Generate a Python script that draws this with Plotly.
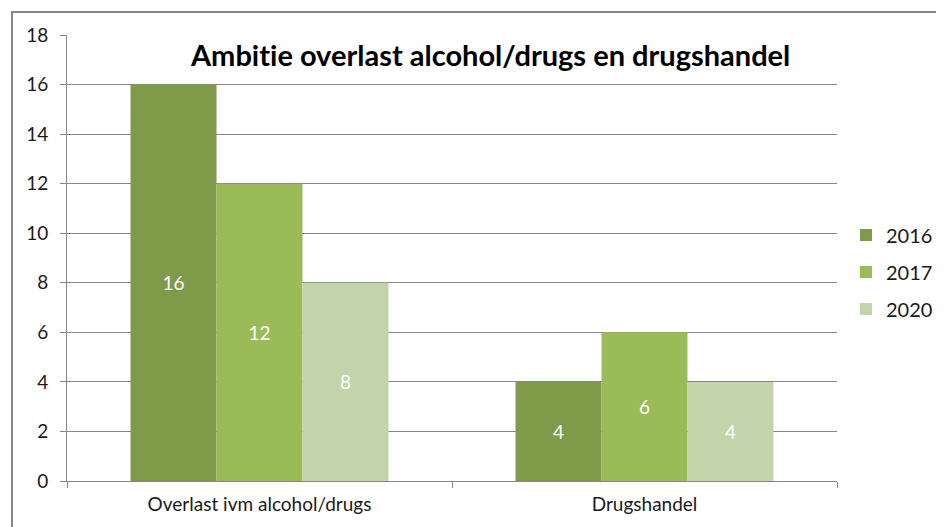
import plotly.graph_objects as go

categories = ["Overlast ivm alcohol/drugs", "Drugshandel"]
years = ["2016", "2017", "2020"]
values_2016 = [16, 4]
values_2017 = [12, 6]
values_2020 = [8, 4]
series = [values_2016, values_2017, values_2020]
colors = ["#7f9a48", "#9bbb59", "#c3d4ab"]
y_ticks = [0, 2, 4, 6, 8, 10, 12, 14, 16, 18]
title_text = "Ambit\u200cie overlast alcohol/drugs en drugshandel"

FONT = "Lato, 'Open Sans', sans-serif"

# screen-space plot area (page body has an 8px margin)
OFF = 8
L, R, T, B = 67, 837, 35, 481
W, H = 944, 527

fig = go.Figure()
for name, vals, col in zip(years, series, colors):
    fig.add_trace(go.Bar(
        name=name, x=categories, y=vals,
        marker=dict(color=col, line=dict(width=0)),
        text=[str(v) for v in vals], textposition="inside",
        insidetextanchor="middle",
        textfont=dict(color="white", size=19, family=FONT),
        legendgroup=name,
    ))

pw, ph = R - L, B - T

fig.update_layout(
    width=W, height=H,
    margin=dict(l=L - OFF, r=W - (R - OFF), t=T - OFF, b=H - (B - OFF), pad=0,
                autoexpand=False),
    paper_bgcolor="white", plot_bgcolor="white",
    barmode="group", bargap=0.33, bargroupgap=0,
    font=dict(family=FONT, size=19, color="#1a1a1a"),
    showlegend=True,
    legend=dict(x=(846 - L) / pw, xanchor="left", y=(B - 272) / ph, yanchor="middle",
                font=dict(size=20, color="#1a1a1a"),
                tracegroupgap=8, itemwidth=30, bgcolor="rgba(0,0,0,0)"),
    xaxis=dict(showgrid=False, showline=True, linecolor="#868686",
               ticks="outside", tickson="boundaries", ticklen=6,
               tickcolor="#868686", tickfont=dict(size=19),
               ticklabelstandoff=6),
    yaxis=dict(range=[0, 18], tickvals=y_ticks, showgrid=True,
               gridcolor="#868686", gridwidth=1, showline=True,
               linecolor="#868686", ticks="outside", ticklen=6,
               tickcolor="#868686", zeroline=False,
               tickfont=dict(size=19), ticklabelstandoff=8),
    annotations=[dict(text="<b>" + title_text + "</b>", xref="paper", yref="paper",
                      x=(490 - L) / pw, y=(B - 54) / ph, xanchor="center",
                      yanchor="middle", showarrow=False,
                      font=dict(size=29, color="black", family=FONT))],
    shapes=[dict(type="rect", xref="paper", yref="paper",
                 x0=(12 - L) / pw, x1=(960 - L) / pw,
                 y0=(B - 545) / ph, y1=(B - 12) / ph,
                 line=dict(color="#868686", width=2), fillcolor="rgba(0,0,0,0)",
                 layer="below")],
)

fig.write_html("out.html")
